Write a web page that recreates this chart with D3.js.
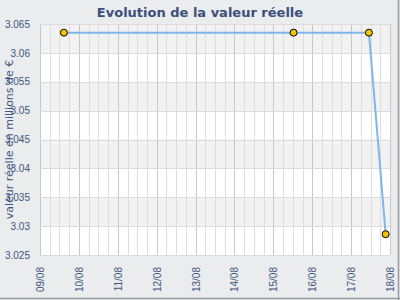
<!DOCTYPE html>
<html>
<head>
<meta charset="utf-8">
<script src="https://cdn.jsdelivr.net/npm/d3@7"></script>
<style>
  body { margin: 0; background: #fff; }
  svg { display: block; font-family: "DejaVu Sans", sans-serif; }
</style>
</head>
<body>
<script>
// values
var dates = ["2011-08-09T14:45", "2011-08-15T12:30", "2011-08-17T11:00", "2011-08-17T21:20"];
var values = [3.0635, 3.0635, 3.0635, 3.0286];
var yTicks = [3.025, 3.03, 3.035, 3.04, 3.045, 3.05, 3.055, 3.06, 3.065];
var xStart = "2011-08-09T00:00", xEnd = "2011-08-18T00:00";

var W = 400, H = 300;
var margin = {top: 24, right: 10, bottom: 45, left: 40};
var w = W - margin.left - margin.right,
    h = H - margin.top - margin.bottom;

var parse = d3.isoParse;
var pts = dates.map(function(d, i) { return {t: parse(d), v: values[i]}; });

var svg = d3.select("body").append("svg").attr("width", W).attr("height", H);

svg.append("rect").attr("width", W).attr("height", H).attr("fill", "#ebecee");
// frame shadow right/bottom
svg.append("line").attr("x1", W - 1.5).attr("x2", W - 1.5).attr("y1", 0).attr("y2", H)
  .attr("stroke", "#9a9a9a").attr("stroke-width", 1.5);
svg.append("line").attr("x1", 0).attr("x2", W).attr("y1", H - 1.5).attr("y2", H - 1.5)
  .attr("stroke", "#9a9a9a").attr("stroke-width", 1.5);

var x = d3.scaleTime().domain([parse(xStart), parse(xEnd)]).range([0, w]);
var y = d3.scaleLinear().domain([3.025, 3.065]).range([h, 0]);

var g = svg.append("g").attr("transform", "translate(" + margin.left + "," + margin.top + ")");

// alternating bands, top one grey
g.selectAll("rect.band").data(yTicks.slice(0, -1)).enter().append("rect")
  .attr("class", "band")
  .attr("x", 0).attr("width", w)
  .attr("y", function(d, i) { return y(yTicks[i + 1]); })
  .attr("height", function(d, i) { return y(d) - y(yTicks[i + 1]); })
  .attr("fill", function(d, i) { return i % 2 === 1 ? "#f2f2f2" : "#ffffff"; });

// vertical grid, every 6h minor, daily major
g.selectAll("line.minor").data(x.ticks(d3.timeHour.every(6))).enter().append("line")
  .attr("x1", function(d) { return Math.round(x(d)) + 0.5; })
  .attr("x2", function(d) { return Math.round(x(d)) + 0.5; })
  .attr("y1", 0).attr("y2", h)
  .attr("stroke", function(d) { return d.getHours() === 0 ? "#c8c8c8" : "#dedede"; })
  .attr("stroke-width", 1);

// horizontal grid
g.selectAll("line.hgrid").data(yTicks).enter().append("line")
  .attr("x1", 0).attr("x2", w)
  .attr("y1", function(d) { return Math.round(y(d)) + 0.5; })
  .attr("y2", function(d) { return Math.round(y(d)) + 0.5; })
  .attr("stroke", "#dcdcdc");

// axes
var yAxis = g.append("g").call(d3.axisLeft(y).tickValues(yTicks).tickSize(0).tickPadding(10)
  .tickFormat(function(d) { return String(+d.toFixed(3)); }));
yAxis.select(".domain").remove();
yAxis.selectAll("text").attr("fill", "#3d5580").attr("font-size", 10);

var xAxis = g.append("g").attr("transform", "translate(0," + h + ")")
  .call(d3.axisBottom(x).ticks(d3.timeDay.every(1)).tickSize(0).tickFormat(d3.timeFormat("%d/%m")));
xAxis.select(".domain").remove();
xAxis.selectAll("text")
  .attr("fill", "#3d5580").attr("font-size", 10)
  .attr("transform", "rotate(-90)")
  .attr("text-anchor", "end")
  .attr("dy", "0.35em")
  .attr("x", -12).attr("y", 0);

// line + points
g.append("path").datum(pts)
  .attr("fill", "none").attr("stroke", "#7fb6ea").attr("stroke-width", 2)
  .attr("d", d3.line().x(function(d) { return x(d.t); }).y(function(d) { return y(d.v); }));

g.selectAll("circle").data(pts).enter().append("circle")
  .attr("cx", function(d) { return x(d.t); })
  .attr("cy", function(d) { return y(d.v); })
  .attr("r", 3.5)
  .attr("fill", "#f5c400").attr("stroke", "#000").attr("stroke-width", 1);

// title and y label
svg.append("text").attr("x", 200).attr("y", 17).attr("text-anchor", "middle")
  .attr("font-size", 13).attr("font-weight", "bold").attr("fill", "#3b4f7a")
  .text("Evolution de la valeur réelle");

svg.append("text").attr("transform", "translate(13," + (margin.top + h / 2) + ") rotate(-90)")
  .attr("text-anchor", "middle").attr("font-size", 11).attr("fill", "#3d5580")
  .text("valeur réelle en millions de €");
</script>
</body>
</html>
